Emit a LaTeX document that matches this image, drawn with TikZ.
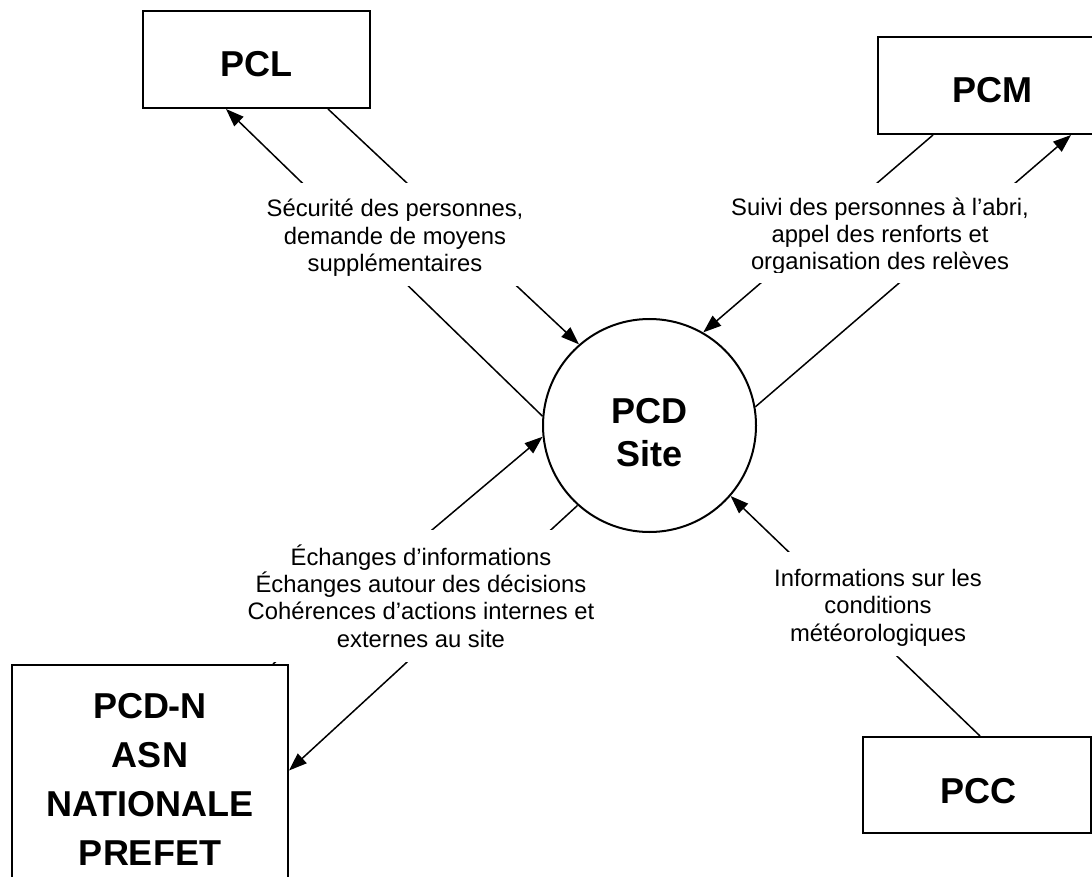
\documentclass[tikz,border=0pt]{standalone}
\usepackage{fontspec}
\setmainfont{Liberation Sans}
\usetikzlibrary{arrows.meta}
\newcommand\mytopstrut[1]{\rule{0pt}{#1}}
\begin{document}
\begin{tikzpicture}[x=1pt,y=-1pt,
  box/.style={draw, line width=2pt, fill=white, inner sep=0pt},
  titletext/.style={font=\bfseries\fontsize{36}{43}\selectfont, align=center, inner sep=0pt},
  lbl/.style={fill=white, inner sep=0pt, align=center, font=\fontsize{23.8}{27.4}\selectfont},
  conn/.style={line width=1.5pt},
  arr/.style={conn, -{Triangle[length=18pt,width=13pt]}}]
\clip (0,0) rectangle (1092,877);
\fill[white] (0,0) rectangle (1092,877);
% boxes and circle
\node[box, minimum width=227pt, minimum height=97pt] (pcl) at (256.5,59.5) {};
\node[box, minimum width=228pt, minimum height=97pt] (pcm) at (992,85.5) {};
\node[box, minimum width=228pt, minimum height=96pt] (pcc) at (977,785) {};
\node[box, minimum width=276pt, minimum height=229pt] (pcdn) at (150,779.5) {};
\node[box, circle, minimum size=213pt] (site) at (649.5,425.5) {};
% connectors
\draw[arr] ([xshift=71.5pt]pcl.south) -- (site.131.6);
\draw[arr] (site.175) -- ([xshift=-30.5pt]pcl.south);
\draw[arr] (site.10.5) -- ([xshift=79pt]pcm.south);
\draw[arr] ([xshift=-59pt]pcm.south) -- (site.60.4);
\draw[arr] ([xshift=3pt]pcc.north) -- (site.-41.5);
\draw[arr] ([xshift=123pt]pcdn.north) -- (site.186.7);
\draw[arr] (site.228.7) -- ([yshift=9pt]pcdn.east);
% labels
\node[lbl, minimum width=262pt, minimum height=103pt] (l1) at (395,234.5)
  {\mytopstrut{24.5pt}Sécurité des personnes,\\demande de moyens\\supplémentaires};
\node[lbl, minimum width=304pt, minimum height=100pt] (l2) at (880,233)
  {\mytopstrut{24pt}Suivi des personnes à l’abri,\\appel des renforts et\\organisation des relèves};
\fill[white] ([yshift=10pt]l2.south west) rectangle (l2.south east);
\node[lbl, minimum width=352pt, minimum height=132pt] (l3) at (421,596)
  {Échanges d’informations\\Échanges autour des décisions\\Cohérences d’actions internes et\\externes au site};
\node[lbl, minimum width=212pt, minimum height=104pt] (l4) at (878,604)
  {\mytopstrut{24.5pt}Informations sur les\\conditions\\météorologiques};
% titles
\node[titletext] (pcltxt) at (256.5,64) {PCL};
\node[titletext] (pcmtxt) at (992,90.5) {PCM};
\node[titletext] (pcctxt) at (978,791.5) {PCC};
\node[titletext] (sitetxt) at (649.5,432.5) {PCD\\Site};
\node[titletext, font=\bfseries\fontsize{36}{49}\selectfont] (pcdntxt) at (150,779.5)
  {PCD-N\\ASN\\NATIONALE\\PREFET};
\end{tikzpicture}
\end{document}
